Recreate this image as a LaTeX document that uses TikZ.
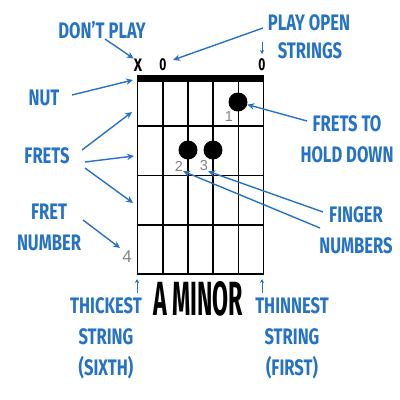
\documentclass[tikz,border=0pt]{standalone}
\usepackage{fontspec}
\setmainfont{Fira Sans}
\newfontfamily\numfont{Liberation Sans}
\usetikzlibrary{arrows.meta,positioning}
\definecolor{noteblue}{RGB}{38,114,196}
\definecolor{numgray}{RGB}{130,130,130}
\newcommand{\hand}[1]{\scalebox{0.85}[1.15]{#1}}

\begin{document}
\begin{tikzpicture}[
  x=1pt, y=-1pt,
  note/.style={text=noteblue, font=\bfseries\fontsize{19.5}{31}\selectfont,
    align=center, inner sep=0pt},
  pointer/.style={-{Stealth[length=7pt, width=6.5pt]}, draw=noteblue,
    line width=1.4pt},
  fing/.style={circle, fill=black, minimum size=19pt, inner sep=0pt},
  num/.style={text=numgray, font=\numfont\fontsize{14.5}{14.5}\selectfont,
    inner sep=0pt},
  topmark/.style={font=\bfseries\fontsize{15}{15}\selectfont, inner sep=0pt},
  gridline/.style={line width=1.6pt},
]
  \useasboundingbox (0,0) rectangle (400,400);
  % Fretboard
  \foreach \s in {0,...,5}
    \draw[gridline] (137.5+25.2*\s,80) -- (137.5+25.2*\s,274.8);
  \foreach \f in {126,175.5,225,274}
    \draw[gridline] (136.7,\f) -- (264.3,\f);
  \fill (136.7,75) rectangle (264.3,82);
  % Fingers
  \node[fing] (f1) at (238,102) {};
  \node[fing] (f2) at (188,150) {};
  \node[fing] (f3) at (213,150) {};
  \node[num] (n1) at (229,117) {1};
  \node[num] (n2) at (179,166) {2};
  \node[num] (n3) at (204,166) {3};
  \node[num, font=\numfont\fontsize{17}{17}\selectfont] (n4) at (127,257) {4};
  % Open / muted strings
  \node[topmark] (mx) at (138,65) {\scalebox{0.95}[1.2]{X}};
  \node[topmark] (mo1) at (163,65) {\scalebox{0.8}[1.15]{0}};
  \node[topmark] (mo6) at (262,65) {\scalebox{0.8}[1.15]{0}};
  % Notes
  \node[note] (dont) at (102,30) {\hand{DON'T PLAY}};
  \node[note] (open) at (309,23) {\hand{PLAY OPEN}};
  \node[note] (strs) at (310,51) {\hand{STRINGS}};
  \node[note] (nut) at (44,98) {\hand{NUT}};
  \node[note] (hold) at (347,139) {\hand{FRETS TO}\\\hand{HOLD DOWN}};
  \node[note] (frets) at (47,156) {\hand{FRETS}};
  \node[note] (fretnum) at (49,227) {\hand{FRET}\\\hand{NUMBER}};
  \node[note] (finger) at (356,230) {\hand{FINGER}\\\hand{NUMBERS}};
  \node[note] (thick) at (106,338)
    {\hand{THICKEST}\\\hand{STRING}\\\hand{(SIXTH)}};
  \node[note] (thin) at (292,338)
    {\hand{THINNEST}\\\hand{STRING}\\\hand{(FIRST)}};
  \node[font=\bfseries\fontsize{40}{40}\selectfont, inner sep=0pt] (chord)
    at (198,299) {\scalebox{0.58}[1.2]{A MINOR}};
  % Pointer ends
  \coordinate (pNut) at (133,80);
  \coordinate (pFretA) at (132,112);
  \coordinate (pFretB) at (134,156);
  \coordinate (pFretC) at (133,203);
  \coordinate (pNum) at (120,248);
  \coordinate (pOpen) at (173,60);
  \coordinate (pDown) at (262,54);
  \coordinate (pLow) at (137,279);
  \coordinate (pHigh) at (262,279);
  % Pointers
  \draw[pointer] (105,39) -- (mx.north west);
  \draw[pointer] (263,28) -- (pOpen);
  \draw[pointer, -{Stealth[length=4pt, width=4pt]}, line width=1pt]
    (262,42) -- (pDown);
  \draw[pointer] (72,95) -- (pNut);
  \draw[pointer] (307,121) -- (f1);
  \draw[pointer] (82,150) -- (pFretA);
  \draw[pointer] (85,162) -- (pFretB);
  \draw[pointer] (85,168) -- (pFretC);
  \draw[pointer] (83,220) -- (pNum);
  \draw[pointer] (323,212) -- (n3.south east);
  \draw[pointer] (320,228) -- (n2.south east);
  \draw[pointer, -{Stealth[length=4pt, width=4pt]}, line width=1pt]
    (137,293) -- (pLow);
  \draw[pointer, -{Stealth[length=4pt, width=4pt]}, line width=1pt]
    (262,293) -- (pHigh);
\end{tikzpicture}
\end{document}
